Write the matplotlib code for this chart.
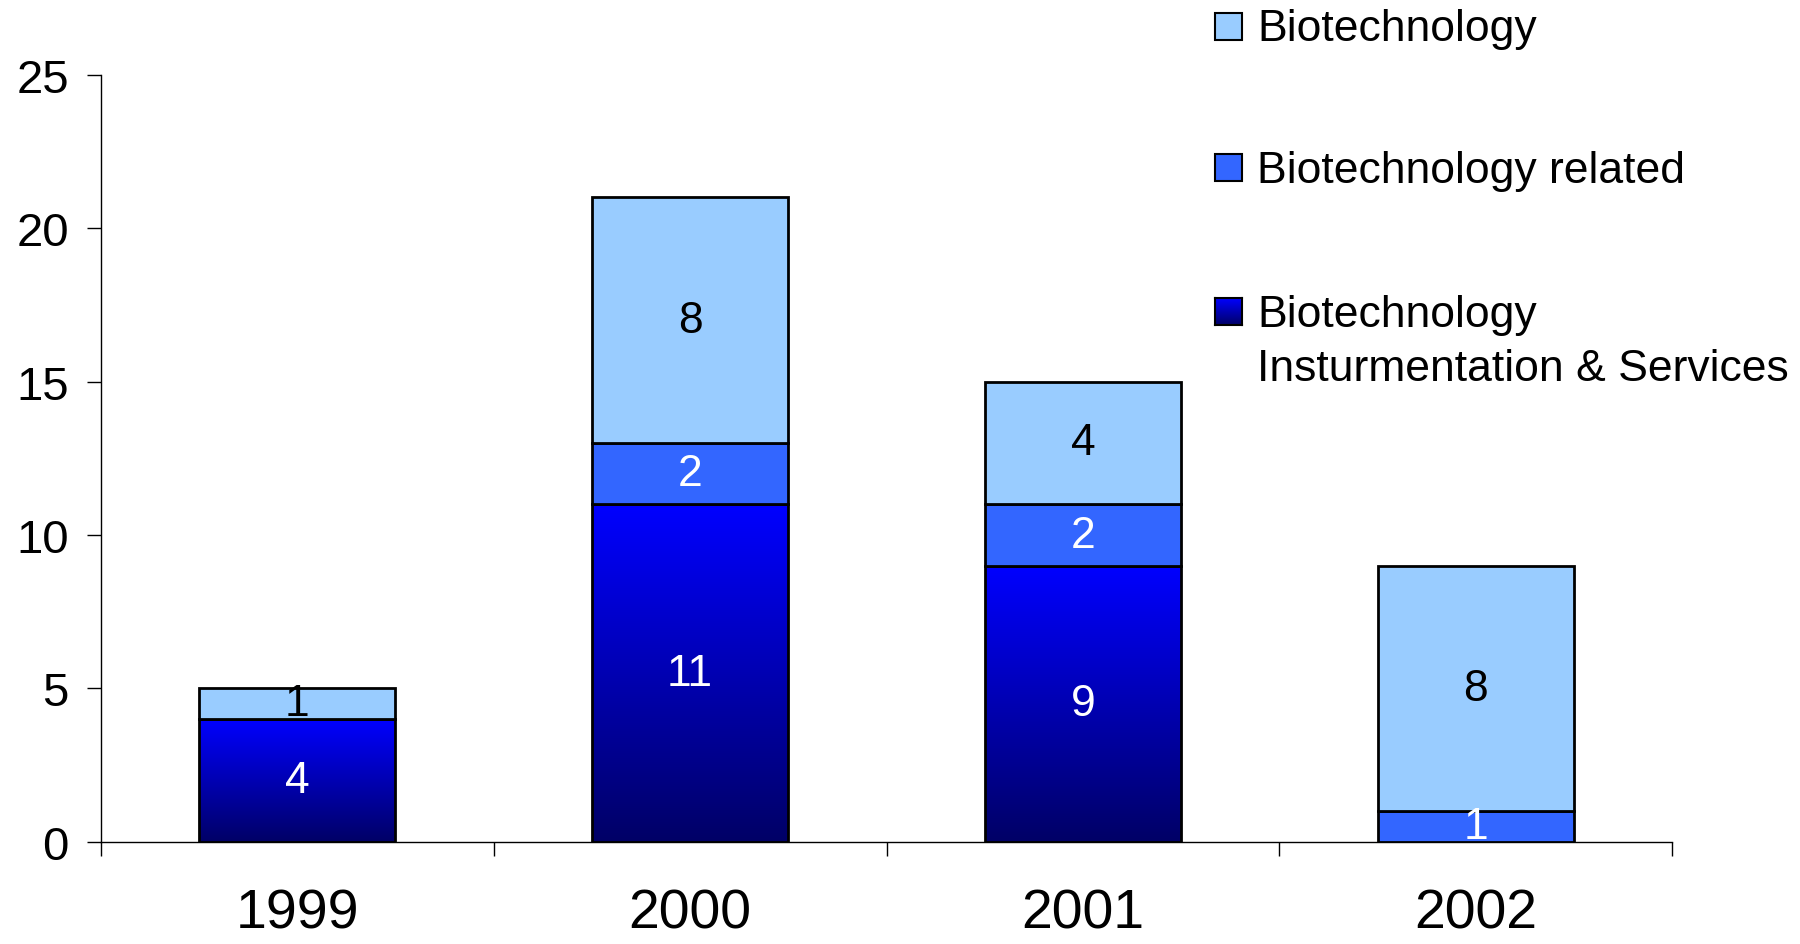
import numpy as np
import matplotlib.pyplot as plt
from matplotlib.colors import LinearSegmentedColormap
from matplotlib.patches import Rectangle

plt.rcParams['font.family'] = ['Liberation Sans', 'DejaVu Sans']

# data
years = ['1999', '2000', '2001', '2002']
instr_services = [4, 11, 9, 0]
biotech_related = [0, 2, 2, 1]
biotech = [1, 8, 4, 8]

c_light = '#99CCFF'
c_mid = '#3366FF'
grad = LinearSegmentedColormap.from_list('g', ['#000066', '#0000FF'])

fig = plt.figure(figsize=(18, 9.45), dpi=100)
ax = fig.add_axes([0.056, 0.108, 0.873, 0.812])

x = np.arange(len(years))
w = 0.5
lw = 2

# gradient-filled bottom series
g = np.linspace(0, 1, 256).reshape(-1, 1)
for xi, v in zip(x, instr_services):
    if v > 0:
        ax.imshow(g, cmap=grad, origin='lower', aspect='auto',
                  extent=(xi - w / 2, xi + w / 2, 0, v), zorder=2)
ax.bar(x, instr_services, w, facecolor='none', edgecolor='black', linewidth=lw, zorder=3)

bottom2 = np.array(instr_services)
ax.bar(x, biotech_related, w, bottom=bottom2, color=c_mid, edgecolor='black', linewidth=lw, zorder=3)
bottom3 = bottom2 + np.array(biotech_related)
ax.bar(x, biotech, w, bottom=bottom3, color=c_light, edgecolor='black', linewidth=lw, zorder=3)

# value labels
fs_val = 32
for xi in x:
    if instr_services[xi]:
        ax.text(xi, instr_services[xi] / 2, str(instr_services[xi]), color='white',
                ha='center', va='center', fontsize=fs_val, zorder=5)
    if biotech_related[xi]:
        ax.text(xi, bottom2[xi] + biotech_related[xi] / 2, str(biotech_related[xi]), color='white',
                ha='center', va='center', fontsize=fs_val, zorder=5)
    if biotech[xi]:
        ax.text(xi, bottom3[xi] + biotech[xi] / 2, str(biotech[xi]), color='black',
                ha='center', va='center', fontsize=fs_val, zorder=5)

ax.set_xlim(-0.5, 3.5)
ax.set_ylim(0, 25)
ax.set_yticks([0, 5, 10, 15, 20, 25])
ax.tick_params(axis='y', labelsize=34, length=10, width=1, pad=13)
ax.set_xticks([-0.5, 0.5, 1.5, 2.5, 3.5])
ax.set_xticklabels([])
ax.tick_params(axis='x', which='major', length=10, width=1)
ax.set_xticks(x, minor=True)
ax.set_xticklabels(years, minor=True)
ax.tick_params(axis='x', which='minor', length=0, labelsize=40, pad=33)
for s in ['top', 'right']:
    ax.spines[s].set_visible(False)
for s in ['left', 'bottom']:
    ax.spines[s].set_linewidth(1)

# legend, drawn by hand to mimic the wide spacing
W, H = 1800, 945
sw = 27
box_x = 1215
text_x = 1257
fs_leg = 32
entries = [('Biotechnology', c_light, 27), ('Biotechnology related', c_mid, 168),
           ('Biotechnology\nInsturmentation & Services', None, 312)]
for label, col, yc in entries:
    y0 = H - yc - sw / 2
    if col is None:
        sax = fig.add_axes([box_x / W, y0 / H, sw / W, sw / H])
        sax.imshow(g, cmap=grad, origin='lower', aspect='auto', extent=(0, 1, 0, 1))
        sax.set_xticks([])
        sax.set_yticks([])
        for sp in sax.spines.values():
            sp.set_linewidth(1.5)
        fig.text(text_x / W, (H - yc - 3) / H, 'Biotechnology', fontsize=fs_leg, va='center', ha='left')
        fig.text(text_x / W, (H - 370) / H, 'Insturmentation & Services', fontsize=fs_leg,
                 va='center', ha='left')
    else:
        fig.add_artist(Rectangle((box_x / W, y0 / H), sw / W, sw / H, transform=fig.transFigure,
                                 facecolor=col, edgecolor='black', linewidth=1.5))
        fig.text(text_x / W, (H - yc - 3) / H, label, fontsize=fs_leg, va='center', ha='left')

plt.savefig('out.png', dpi=100)
